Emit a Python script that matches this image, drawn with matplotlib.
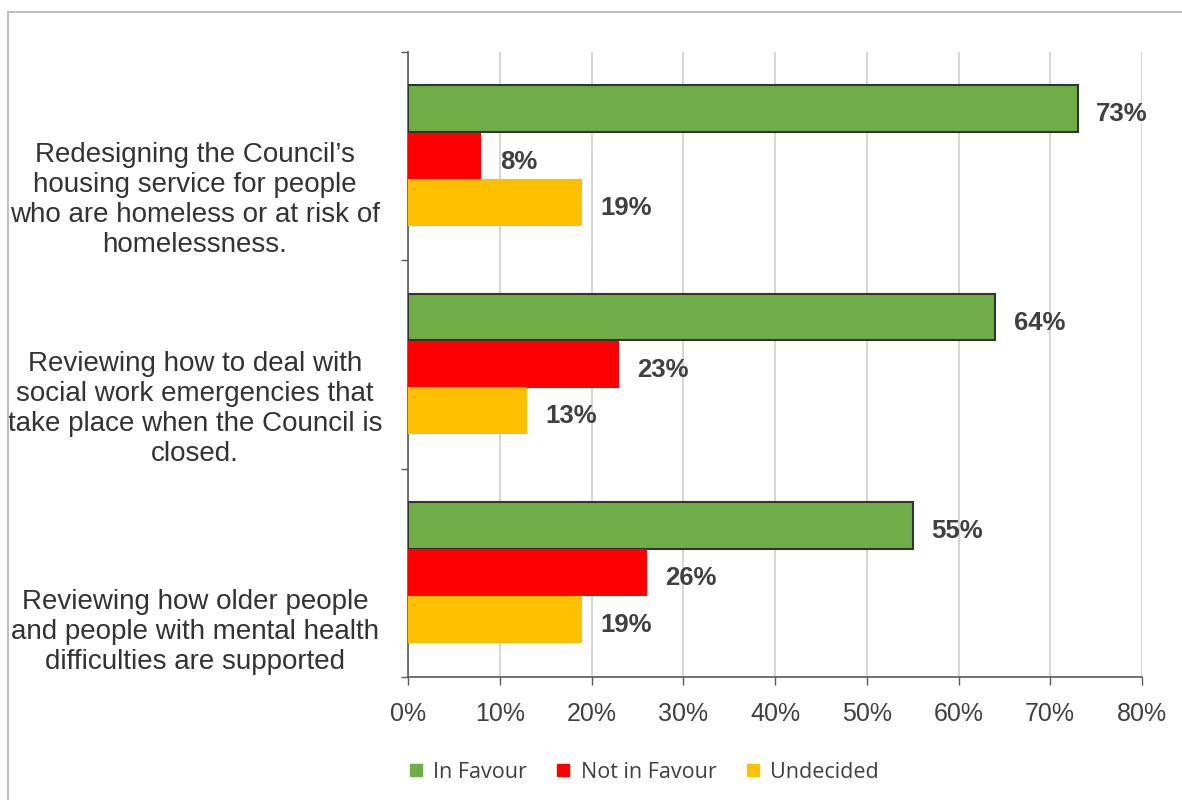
import matplotlib
matplotlib.use("Agg")
import matplotlib.pyplot as plt
import matplotlib.transforms as mtransforms
from matplotlib.lines import Line2D
import numpy as np

plt.rcParams['font.family'] = ['Liberation Sans', 'DejaVu Sans']

categories = [
    "Redesigning the Council\u2019s\nhousing service for people\nwho are homeless or at risk of\nhomelessness.",
    "Reviewing how to deal with\nsocial work emergencies that\ntake place when the Council is\nclosed.",
    "Reviewing how older people\nand people with mental health\ndifficulties are supported",
]
series_names = ["In Favour", "Not in Favour", "Undecided"]
in_favour = [73, 64, 55]
not_in_favour = [8, 23, 26]
undecided = [19, 13, 19]
x_ticks = [0, 10, 20, 30, 40, 50, 60, 70, 80]

colors = ["#70AD47", "#FF0000", "#FFC000"]
text_col = "#404040"

fig = plt.figure(figsize=(11.82, 8), dpi=100)
ax = fig.add_axes([408 / 1182, 1 - 677 / 800, (1142 - 408) / 1182, (677 - 52) / 800])

y = np.arange(len(categories))
bar_h = 0.225
offsets = [-0.228, 0.0, 0.222]
lbl_shift = mtransforms.offset_copy(ax.transData, fig=fig, x=0, y=-3, units="dots")
handles = []
for vals, off, col, name in zip([in_favour, not_in_favour, undecided], offsets, colors, series_names):
    edge = "#333333" if name == "In Favour" else col
    lw = 1.5 if name == "In Favour" else 0
    bars = ax.barh(y + off, vals, height=bar_h, color=col, edgecolor=edge, linewidth=lw, zorder=3)
    for b, v in zip(bars, vals):
        ax.text(v + 2.0, b.get_y() + b.get_height() / 2, f"{v}%", va="center_baseline", ha="left",
                fontsize=18.5, fontweight="bold", color=text_col, transform=lbl_shift)
    handles.append(Line2D([], [], marker="s", linestyle="none", markersize=9,
                          markerfacecolor=col, markeredgecolor=col, label=name))

ax.set_xlim(0, 80)
ax.set_ylim(2.5, -0.5)
ax.set_xticks(x_ticks)
ax.set_xticklabels([f"{t}%" for t in x_ticks], fontsize=18, color=text_col)
ax.tick_params(axis="x", length=6, width=1, color="#595959", pad=12)

# category labels sit at the bottom of each band, centred left of the axis
ax.set_yticks([-0.5, 0.5, 1.5, 2.5])
ax.set_yticklabels([])
ax.tick_params(axis="y", length=5, width=1, color="#595959")
lab_tr = mtransforms.blended_transform_factory(fig.transFigure, ax.transData)
for i, cat in enumerate(categories):
    ax.text(195 / 1182, i + 0.49, cat, transform=lab_tr, ha="center", va="bottom",
            multialignment="center", fontsize=20, color="#333333", linespacing=1.2)

ax.grid(axis="x", color="#D0D0D0", linewidth=1.2, zorder=0)
for s in ["top", "right"]:
    ax.spines[s].set_visible(False)
for s in ["left", "bottom"]:
    ax.spines[s].set_color("#595959")
    ax.spines[s].set_linewidth(1.2)

leg = fig.legend(handles=handles, loc="center", bbox_to_anchor=(643 / 1182, 1 - 772 / 800),
                 ncol=3, frameon=False, handlelength=0.8, handletextpad=0.4, columnspacing=1.3,
                 prop={"family": "Open Sans", "size": 15.5})
for t in leg.get_texts():
    t.set_color(text_col)

# outer chart frame
fig.add_artist(Line2D([8 / 1182, 1], [1 - 12 / 800, 1 - 12 / 800], transform=fig.transFigure,
                      color="#BFBFBF", linewidth=1.5))
fig.add_artist(Line2D([8 / 1182, 8 / 1182], [0, 1 - 12 / 800], transform=fig.transFigure,
                      color="#BFBFBF", linewidth=1.5))

fig.savefig("out.png", dpi=100)
